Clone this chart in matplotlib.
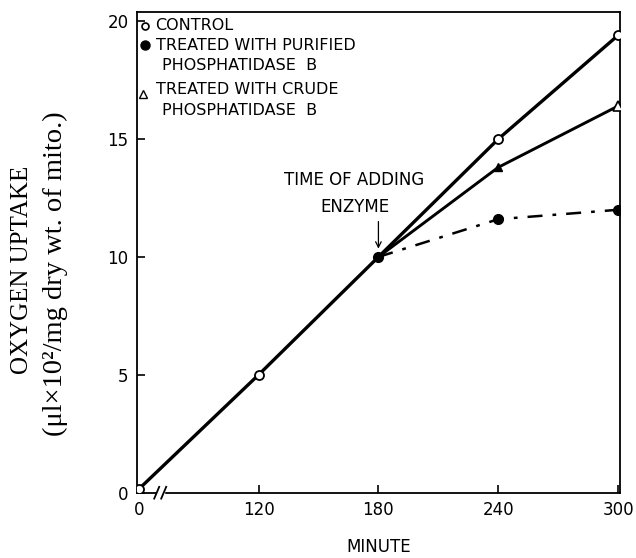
import numpy as np
import matplotlib
matplotlib.use('Agg')
import matplotlib.pyplot as plt

# data
minutes = [0, 120, 180, 240, 300]
control = [0.15, 5.0, 10.0, 15.0, 19.4]
treated_minutes = [180, 240, 300]
crude = [10.0, 13.8, 16.4]
purified = [10.0, 11.6, 12.0]
xticks = [0, 120, 180, 240, 300]
yticks = [0, 5, 10, 15, 20]

plt.rcParams['font.family'] = ['DejaVu Sans']


# broken axis: 0..120 is squeezed into half its length
def fwd(x):
    x = np.asarray(x, dtype=float)
    return np.where(x < 120, 60 + x / 2, x)


def inv(x):
    x = np.asarray(x, dtype=float)
    return np.where(x < 120, (x - 60) * 2, x)


fig = plt.figure(figsize=(6.36, 5.58), dpi=100)
ax = fig.add_axes([0.215, 0.117, 0.76, 0.862])
ax.set_xscale('function', functions=(fwd, inv))

lw = 2.4
ax.plot(minutes, control, color='black', lw=lw, zorder=2)
ax.plot(treated_minutes, crude, color='black', lw=lw - 0.3, zorder=2)
ax.plot(treated_minutes, purified, color='black', lw=1.8, zorder=2,
        linestyle=(0, (6, 4, 1.5, 4)))

ax.plot(minutes[:2] + minutes[3:], control[:2] + control[3:], 'o', ms=6.5,
        mfc='white', mec='black', mew=1.3, zorder=3)
ax.plot(treated_minutes[1:2], crude[1:2], '^', ms=6, mfc='black', mec='black', zorder=3)
ax.plot(treated_minutes[-1:], crude[-1:], '^', ms=7, mfc='white', mec='black', mew=1.2, zorder=3)
ax.plot(treated_minutes, purified, 'o', ms=7, mfc='black', mec='black', zorder=3)

ax.set_xlim(-2, 301)
ax.set_ylim(0, 20.4)
ax.set_xticks(xticks)
ax.set_xticklabels([str(t) for t in xticks])
ax.set_yticks(yticks)
ax.tick_params(direction='in', length=6, width=1.2, labelsize=12, pad=6)
ax.xaxis.set_minor_locator(plt.NullLocator())
for s in ax.spines.values():
    s.set_linewidth(1.3)

# break marks on the x axis
ax.fill_between([18, 25], -0.12, 0.12, color='white', zorder=3.5, clip_on=False)
for xb in [18, 25]:
    ax.plot([xb - 2.5, xb + 2.5], [-0.25, 0.25], color='black', lw=1.3,
            clip_on=False, zorder=4)

ax.set_xlabel('MINUTE', fontsize=12, labelpad=14)

fig.text(0.035, 0.516, 'OXYGEN UPTAKE', rotation=90, ha='center', va='center',
         fontsize=18, family='Liberation Serif')
fig.text(0.087, 0.51, '(μl×10²/mg dry wt. of mito.)', rotation=90, ha='center',
         va='center', fontsize=20.5, family='Liberation Serif')

# "time of adding enzyme" note with arrow
ax.text(168, 11.75, 'TIME OF ADDING\nENZYME', ha='center', va='bottom',
        fontsize=12, linespacing=1.6)
ax.annotate('', xy=(180, 10.35), xytext=(180, 11.5),
            arrowprops=dict(arrowstyle='->', color='black', lw=0.9,
                            shrinkA=0, shrinkB=0))

# legend drawn by hand (markers at left, two-line labels)
mx, tx, tx2 = 0.017, 0.039, 0.052
rows = [19.80, 18.98, 18.12, 17.08, 16.20]
labels = ['CONTROL', 'TREATED WITH PURIFIED', 'PHOSPHATIDASE  B',
          'TREATED WITH CRUDE', 'PHOSPHATIDASE  B']
lx = [tx, tx, tx2, tx, tx2]


def to_ax(v):
    return v / 20.4


ax.plot([mx], [to_ax(rows[0])], 'o', ms=5, mfc='white', mec='black', mew=1.2,
        transform=ax.transAxes, clip_on=False)
ax.plot([mx], [to_ax(rows[1])], 'o', ms=6.5, mfc='black', mec='black',
        transform=ax.transAxes, clip_on=False)
ax.plot([mx - 0.004], [to_ax(rows[3]) - 0.008], '^', ms=5.5, mfc='white',
        mec='black', mew=1, transform=ax.transAxes, clip_on=False)
for x, r, lab in zip(lx, rows, labels):
    ax.text(x, to_ax(r), lab, transform=ax.transAxes, va='center', fontsize=11.5)

fig.savefig('out.png', dpi=100)
